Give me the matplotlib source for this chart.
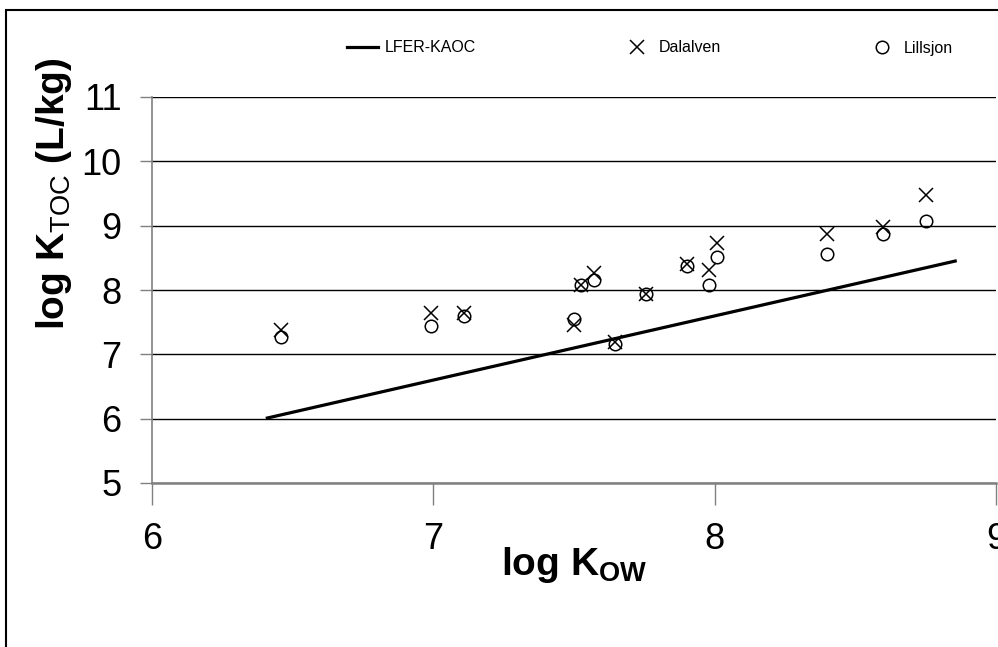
import matplotlib
matplotlib.use("Agg")
import matplotlib.pyplot as plt
from matplotlib.lines import Line2D
from matplotlib.patches import Rectangle

plt.rcParams['font.family'] = ['Liberation Sans', 'DejaVu Sans']
plt.rcParams['mathtext.fontset'] = 'custom'
plt.rcParams['mathtext.rm'] = 'Liberation Sans'
plt.rcParams['mathtext.bf'] = 'Liberation Sans:bold'

# log Kow of the compounds
log_kow = [6.46, 6.99, 7.11, 7.50, 7.525, 7.57, 7.646, 7.756, 7.90, 7.98, 8.01, 8.40, 8.60, 8.75]
dalalven = [7.38, 7.64, 7.64, 7.46, 8.08, 8.26, 7.19, 7.94, 8.40, 8.31, 8.73, 8.87, 8.98, 9.48]
lillsjon = [7.27, 7.44, 7.60, 7.55, 8.08, 8.16, 7.16, 7.94, 8.37, 8.08, 8.51, 8.56, 8.87, 9.07]

# LFER-KAOC prediction
lfer_x = [6.41, 7.05, 8.855]
lfer_y = [6.01, 6.65, 8.45]

x_ticks = [6, 7, 8, 9]
y_ticks = [5, 6, 7, 8, 9, 10, 11]

W, H = 998, 647
fig = plt.figure(figsize=(W / 100, H / 100), dpi=100)
ax = fig.add_axes([152 / W, 1 - 483 / H, (996 - 152) / W, (483 - 97) / H])

ax.plot(lfer_x, lfer_y, '-', color='black', lw=2.3, label='LFER-KAOC', zorder=3)
ax.plot(log_kow, dalalven, 'x', color='black', ms=10.5, mew=1.1, label='Dalalven', zorder=4)
ax.plot(log_kow, lillsjon, 'o', mfc='none', mec='black', ms=9, mew=1.1, label='Lillsjon', zorder=4)

ax.set_xlim(6, 9)
ax.set_ylim(5, 11)
ax.set_xticks(x_ticks)
ax.set_yticks(y_ticks)
ax.yaxis.grid(True, color='black', lw=1.0)
ax.set_axisbelow(True)

for s in ['top', 'right']:
    ax.spines[s].set_visible(False)
ax.spines['left'].set_color('#808080')
ax.spines['left'].set_linewidth(1.2)
ax.spines['bottom'].set_color('#808080')
ax.spines['bottom'].set_linewidth(1.8)

ax.tick_params(axis='x', direction='out', length=16, width=1, color='#808080', pad=12, labelsize=26)
ax.tick_params(axis='y', direction='out', length=9, width=1, color='#808080', pad=13, labelsize=26)

ax.set_xlabel(r'log K$_{\mathbf{OW}}$', fontsize=28, fontweight='bold')
ax.xaxis.set_label_coords(0.5, -0.16)
ax.set_ylabel(r'log K$_{\mathrm{TOC}}$ (L/kg)', fontsize=28, fontweight='bold')
ax.yaxis.set_label_coords(-0.092, 0.75)

handles = [Line2D([], [], color='black', lw=2.3),
           Line2D([], [], ls='none', marker='x', color='black', ms=10.5, mew=1.1),
           Line2D([], [], ls='none', marker='o', mfc='none', mec='black', ms=9, mew=1.1)]
fig.legend(handles, ['LFER-KAOC', 'Dalalven', 'Lillsjon'], loc='center left',
           bbox_to_anchor=(347 / W, 1 - 48 / H), ncol=3, frameon=False, fontsize=11.5,
           handlelength=1.95, handletextpad=0.4, columnspacing=9.1, borderpad=0, borderaxespad=0)

# outer chart border (cropped on right and bottom)
fig.patches.append(Rectangle((6 / W, -0.1), 2, 1 - 10 / H + 0.1, transform=fig.transFigure,
                             fill=False, edgecolor='black', lw=1.5))

fig.savefig('out.png', dpi=100)
